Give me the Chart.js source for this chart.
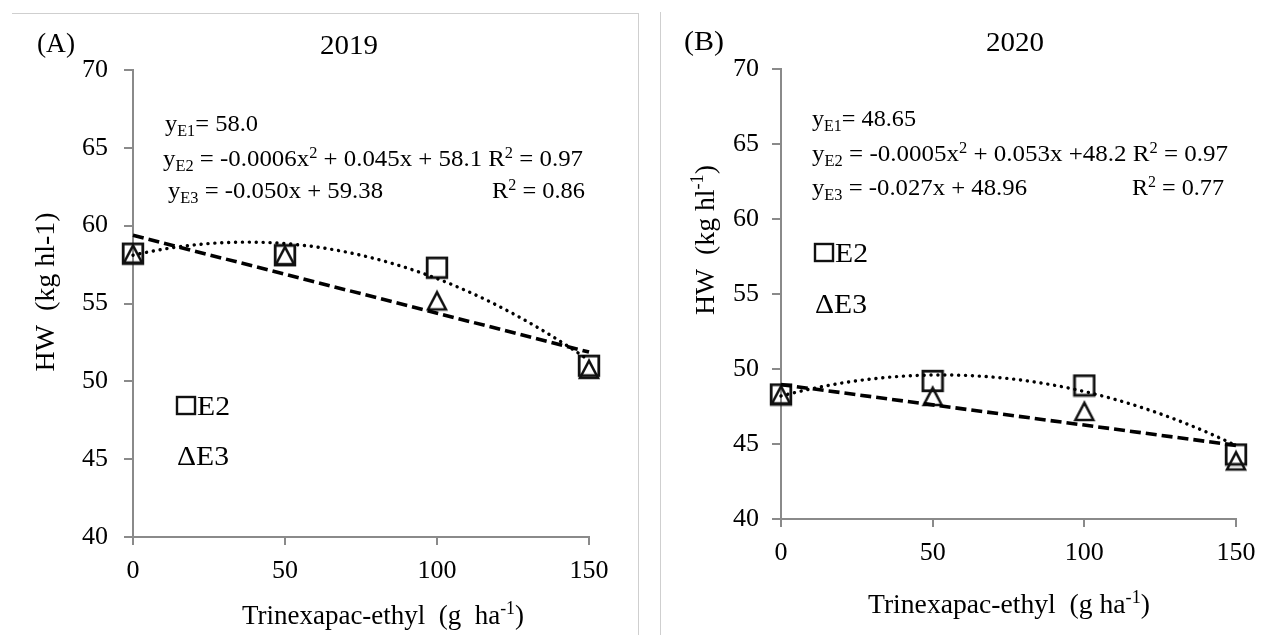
<!DOCTYPE html>
<html>
<head>
<meta charset="utf-8">
<script src="https://cdn.jsdelivr.net/npm/chart.js@4.4.1/dist/chart.umd.min.js"></script>
<style>
  html, body { margin: 0; padding: 0; background: #fff; }
  #wrap { position: relative; width: 1271px; height: 635px; overflow: hidden; background: #fff; }
  #wrap canvas { position: absolute; left: 0; top: 0; }
  .rule { position: absolute; background: #cfcfcf; }
  .probe { position: absolute; left: -999px; font-family: "Liberation Serif"; }
</style>
</head>
<body>
<div id="wrap">
  <div class="rule" style="left:12px;top:13px;width:627px;height:1px"></div>
  <div class="rule" style="left:638px;top:13px;width:1px;height:622px"></div>
  <div class="rule" style="left:660px;top:12px;width:1px;height:623px"></div>
  <canvas id="chart2019" width="1271" height="635"></canvas>
  <canvas id="chart2020" width="1271" height="635"></canvas>
</div>
<span class="probe">HW 2019 &#916;</span>
<script>
// Trinexapac-ethyl doses (g/ha) and hectolitre weight per sowing date
const doses = [0, 50, 100, 150];
const yTicks = [40, 45, 50, 55, 60, 65, 70];

const hw2019E2 = [58.2, 58.1, 57.3, 51.0];
const hw2019E3 = [58.2, 58.1, 55.2, 50.8];
const hw2020E2 = [48.3, 49.2, 48.9, 44.3];
const hw2020E3 = [48.3, 48.2, 47.2, 43.9];

// regression coefficients as printed on each panel: [c, b, a] -> a*x^2 + b*x + c
const fit2019E2 = [58.1, 0.045, -0.0006];
const fit2019E3 = [59.38, -0.050, 0];
const fit2020E2 = [48.2, 0.053, -0.0005];
const fit2020E3 = [48.96, -0.027, 0];

const FONT = '"Liberation Serif", "Times New Roman", Times, serif';
const AXIS = '#8a8a8a';
const INK = '#000';
const W = 1271, H = 635;

function fitCurve(coef, step) {
  const pts = [];
  for (let x = doses[0]; x <= doses[doses.length - 1]; x += step) {
    pts.push({ x: x, y: coef[0] + coef[1] * x + coef[2] * x * x });
  }
  return pts;
}

function toPoints(ys) {
  return doses.map((d, i) => ({ x: d, y: ys[i] }));
}

// hollow marker images, centred on the data point
function squareMarker() {
  const c = document.createElement('canvas');
  c.width = 24; c.height = 24;
  const g = c.getContext('2d');
  g.strokeStyle = '#111';
  g.lineWidth = 2.8;
  g.strokeRect(2.2, 2.2, 19.6, 19.6);
  return c;
}

function triangleMarker() {
  const c = document.createElement('canvas');
  c.width = 24; c.height = 24;
  const g = c.getContext('2d');
  g.strokeStyle = '#111';
  g.lineWidth = 2.5;
  g.lineJoin = 'miter';
  g.beginPath();
  g.moveTo(12, 3.8);
  g.lineTo(3, 21);
  g.lineTo(21, 21);
  g.closePath();
  g.stroke();
  return c;
}

const SQUARE = squareMarker();
const TRIANGLE = triangleMarker();

// text runs: [text, 'sub' | 'sup' | undefined]
function drawRich(ctx, item) {
  const size = item.size;
  ctx.save();
  ctx.translate(item.x, item.y);
  if (item.rot) ctx.rotate(-Math.PI / 2);
  const runs = item.parts.map(p => {
    const fs = p[1] ? size * 0.66 : size;
    ctx.font = fs + 'px ' + FONT;
    return { t: p[0], kind: p[1], fs: fs, w: ctx.measureText(p[0]).width };
  });
  const total = runs.reduce((s, r) => s + r.w, 0);
  const sx = item.w ? item.w / total : 1;
  ctx.scale(sx, 1);
  let cx = item.rot ? -total / 2 : 0;
  ctx.fillStyle = INK;
  ctx.textBaseline = 'alphabetic';
  ctx.textAlign = 'left';
  const base = size * 0.34;
  runs.forEach(r => {
    ctx.font = r.fs + 'px ' + FONT;
    let dy = 0;
    if (r.kind === 'sub') dy = size * 0.2;
    if (r.kind === 'sup') dy = -size * 0.36;
    ctx.fillText(r.t, cx, base + dy);
    cx += r.w;
  });
  ctx.restore();
}

const panelText = {
  id: 'panelText',
  afterDraw(chart, args, opts) {
    const ctx = chart.ctx;
    (opts.items || []).forEach(item => {
      if (item.box) {
        ctx.save();
        ctx.strokeStyle = '#111';
        ctx.lineWidth = 2.4;
        ctx.strokeRect(item.box[0], item.box[1], item.box[2], item.box[3]);
        ctx.restore();
      } else {
        drawRich(ctx, item);
      }
    });
  }
};

function buildPanel(id, area, series, texts, yPad) {
  const yWidth = 60, xHeight = 60;
  return new Chart(document.getElementById(id), {
    type: 'scatter',
    data: {
      datasets: [
        {
          label: 'E3 fit',
          data: fitCurve(series.fitE3, 150),
          showLine: true,
          borderColor: '#000',
          borderWidth: 3.6,
          borderDash: [11, 5],
          pointRadius: 0,
          clip: false
        },
        {
          label: 'E2 fit',
          data: fitCurve(series.fitE2, 2.5),
          showLine: true,
          borderColor: '#000',
          borderWidth: 3.4,
          borderDash: [0.1, 6.8],
          borderCapStyle: 'round',
          pointRadius: 0,
          clip: false
        },
        {
          label: 'E2',
          data: toPoints(series.e2),
          pointStyle: SQUARE,
          pointRadius: 10,
          clip: false
        },
        {
          label: 'E3',
          data: toPoints(series.e3),
          pointStyle: TRIANGLE,
          pointRadius: 10,
          clip: false
        }
      ]
    },
    options: {
      responsive: false,
      animation: false,
      events: [],
      layout: {
        padding: {
          left: area.left - yWidth,
          right: W - area.right,
          top: area.top,
          bottom: H - area.bottom - xHeight
        }
      },
      plugins: {
        legend: { display: false },
        tooltip: { enabled: false },
        title: { display: false },
        panelText: { items: texts }
      },
      scales: {
        x: {
          type: 'linear',
          min: 0,
          max: 150,
          afterFit: s => { s.height = xHeight; },
          afterBuildTicks: s => { s.ticks = doses.map(v => ({ value: v })); },
          ticks: {
            color: INK,
            padding: 11,
            maxRotation: 0,
            font: { family: FONT, size: 26 }
          },
          grid: {
            display: true,
            drawOnChartArea: false,
            drawTicks: true,
            tickLength: 8,
            color: AXIS,
            lineWidth: 2
          },
          border: { display: true, color: AXIS, width: 2 }
        },
        y: {
          type: 'linear',
          min: 40,
          max: 70,
          afterFit: s => { s.width = yWidth; },
          afterBuildTicks: s => { s.ticks = yTicks.map(v => ({ value: v })); },
          ticks: {
            color: INK,
            padding: yPad,
            font: { family: FONT, size: 26 }
          },
          grid: {
            display: true,
            drawOnChartArea: false,
            drawTicks: true,
            tickLength: 9,
            color: AXIS,
            lineWidth: 2
          },
          border: { display: true, color: AXIS, width: 2 }
        }
      }
    },
    plugins: [panelText]
  });
}

function drawAll() {
  // (A) 2019
  buildPanel('chart2019',
    { left: 133, right: 589, top: 70, bottom: 537 },
    { e2: hw2019E2, e3: hw2019E3, fitE2: fit2019E2, fitE3: fit2019E3 },
    [
      { parts: [['(A)']], x: 37, y: 43, size: 27, w: 38 },
      { parts: [['2019']], x: 320, y: 45, size: 27, w: 58 },
      { parts: [['y'], ['E1', 'sub'], ['= 58.0']], x: 165, y: 123, size: 24, w: 93 },
      { parts: [['y'], ['E2', 'sub'], [' = -0.0006x'], ['2', 'sup'], [' + 0.045x + 58.1 R'], ['2', 'sup'], [' = 0.97']], x: 163, y: 158, size: 24, w: 420 },
      { parts: [['y'], ['E3', 'sub'], [' = -0.050x + 59.38']], x: 168, y: 190, size: 24, w: 215 },
      { parts: [['R'], ['2', 'sup'], [' = 0.86']], x: 492, y: 190, size: 24, w: 93 },
      { box: [177, 397, 18, 17] },
      { parts: [['E2']], x: 197, y: 406, size: 27, w: 33 },
      { parts: [['\u0394E3']], x: 177, y: 456, size: 27, w: 52 },
      { parts: [['Trinexapac-ethyl  (g  ha'], ['-1', 'sup'], [')']], x: 242, y: 615, size: 27, w: 282 },
      { parts: [['HW  (kg hl-1)']], x: 44, y: 292, size: 28, w: 159, rot: true }
    ],
    16);

  // (B) 2020
  buildPanel('chart2020',
    { left: 781, right: 1236, top: 69, bottom: 519 },
    { e2: hw2020E2, e3: hw2020E3, fitE2: fit2020E2, fitE3: fit2020E3 },
    [
      { parts: [['(B)']], x: 684, y: 41, size: 27, w: 40 },
      { parts: [['2020']], x: 986, y: 42, size: 27, w: 58 },
      { parts: [['y'], ['E1', 'sub'], ['= 48.65']], x: 812, y: 118, size: 24, w: 104 },
      { parts: [['y'], ['E2', 'sub'], [' = -0.0005x'], ['2', 'sup'], [' + 0.053x +48.2 R'], ['2', 'sup'], [' = 0.97']], x: 812, y: 153, size: 24, w: 416 },
      { parts: [['y'], ['E3', 'sub'], [' = -0.027x + 48.96']], x: 812, y: 187, size: 24, w: 215 },
      { parts: [['R'], ['2', 'sup'], [' = 0.77']], x: 1132, y: 187, size: 24, w: 92 },
      { box: [815, 244, 18, 17] },
      { parts: [['E2']], x: 835, y: 253, size: 27, w: 33 },
      { parts: [['\u0394E3']], x: 815, y: 304, size: 27, w: 52 },
      { parts: [['Trinexapac-ethyl  (g ha'], ['-1', 'sup'], [')']], x: 868, y: 604, size: 27, w: 282 },
      { parts: [['HW  (kg hl'], ['-1', 'sup'], [')']], x: 704, y: 240, size: 28, w: 150, rot: true }
    ],
    13);
}

// make sure the serif face is ready before the canvases are painted
Promise.all([
  document.fonts.load('26px "Liberation Serif"'),
  document.fonts.load('16px "Liberation Serif"')
]).then(drawAll, drawAll);
</script>
</body>
</html>
